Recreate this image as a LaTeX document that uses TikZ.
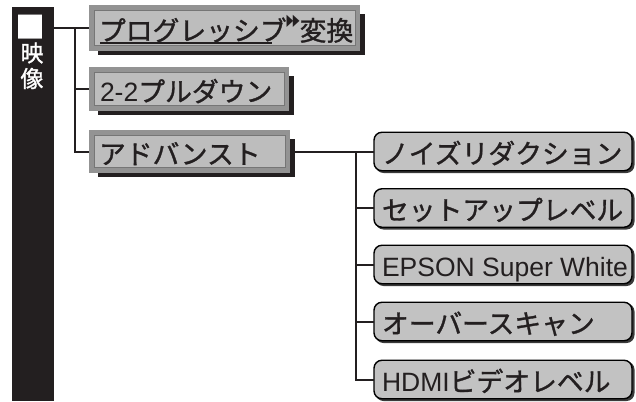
\documentclass[tikz,border=0pt]{standalone}
\usepackage{fontspec}
\setmainfont{Liberation Sans}
\newfontfamily\jp[FakeBold=1.2]{Noto Sans CJK JP}
\newfontfamily\jpplain{Noto Sans CJK JP}
\newfontfamily\dvs{DejaVu Sans}
\definecolor{barblack}{HTML}{231F20}
\definecolor{framegray}{HTML}{939393}
\definecolor{innergray}{HTML}{BDBDBD}
\definecolor{boxgray}{HTML}{C2C2C2}
\definecolor{shadowgray}{HTML}{3A3A3A}
\newcommand\leftbox[5]{%
  \fill[barblack] (#2+9,#3+9) rectangle (#2+#4+5,#3+#5+4);
  \node[lframe, minimum width=#4, minimum height=#5] (#1) at (#2,#3) {};
  \node[linner, minimum width=#4-10, minimum height=#5-11] (#1in) at (#2+5,#3+5) {};
}
\newcommand\rightbox[3]{%
  \fill[shadowgray, rounded corners=8pt] (375.5,#2-18) rectangle (634.5,#2+21.5);
  \node[rbox] (#1) at (503,#2) {};
  \node[rtext] (#1t) at (382,#2+12) {#3};
}
\newcommand\jpk[1]{{\jp\fontsize{26.8}{30}\selectfont #1}}
\newcommand\tri{\scalebox{0.55}[1]{▶}}
\begin{document}
\begin{tikzpicture}[x=1pt,y=-1pt,
  conn/.style={line width=2pt, draw=barblack},
  lframe/.style={rectangle, fill=framegray, inner sep=0, outer sep=0, anchor=north west},
  linner/.style={rectangle, fill=innergray, draw=framegray!80!black, line width=0.5pt, inner sep=0, outer sep=0, anchor=north west},
  rbox/.style={rectangle, rounded corners=8pt, draw=black, line width=1.4pt, fill=boxgray, minimum width=258, minimum height=38.5, inner sep=0, outer sep=0},
  rtext/.style={anchor=base west, inner sep=0, outer sep=0, font=\fontsize{26.5}{30}\selectfont, text=barblack},
  ltext/.style={anchor=base west, inner sep=0, outer sep=0, font=\fontsize{26.5}{30}\selectfont, text=barblack},
  wtext/.style={text=white, inner sep=0, outer sep=0},
]
\useasboundingbox (0,0) rectangle (636,401);
% side bar
\node[rectangle, fill=barblack, minimum width=42, minimum height=394, anchor=north west, inner sep=0, outer sep=0] (bar) at (12,7) {};
\node[wtext, font=\jpplain\fontsize{30}{30}\selectfont] (sq) at (31,27) {■};
\node[wtext, font=\jp\fontsize{23}{25}\selectfont] (ei) at (32,53) {映};
\node[wtext, font=\jp\fontsize{23}{25}\selectfont] (zo) at (32,78.5) {像};
% left boxes
\leftbox{b1}{89}{5}{271}{46}
\leftbox{b2}{89}{67}{200}{44}
\leftbox{b3}{89}{130}{201}{43}
\node[ltext] (prog) at (99,40.5) {\rlap{\kern1pt\raisebox{-3.1pt}{\rule{172pt}{1.8pt}}}\jpk{プログレッシブ}\kern0pt\raisebox{14.5pt}{\dvs\fontsize{16}{16}\selectfont\tri\kern-0.5pt\tri}\kern0pt\jpk{変換}};
\node[ltext] (pull) at (100,101.5) {2-2\jpk{プルダウン}};
\node[ltext] (adv) at (99,164) {\jpk{アドバンスト}};
% right boxes
\rightbox{r1}{151.5}{\jpk{ノイズリダクション}}
\rightbox{r2}{208}{\jpk{セットアップレベル}}
\rightbox{r3}{264.5}{EPSON Super White}
\rightbox{r4}{321.5}{\jpk{オーバースキャン}}
\rightbox{r5}{379.5}{HDMI\jpk{ビデオレベル}}
% connectors left
\coordinate (lt) at (75,28);
\draw[conn] (bar.east |- b1.west) -- (b1.west);
\draw[conn] (lt) |- (b3.west);
\draw[conn] (lt |- b2.west) -- (b2.west);
% connectors right
\coordinate (rt) at (356,151.5);
\draw[conn] (b3.east) -- (r1.west);
\draw[conn] (rt) |- (r5.west);
\foreach \r in {r2,r3,r4} {\draw[conn] (rt |- \r.west) -- (\r.west);}
\end{tikzpicture}
\end{document}
